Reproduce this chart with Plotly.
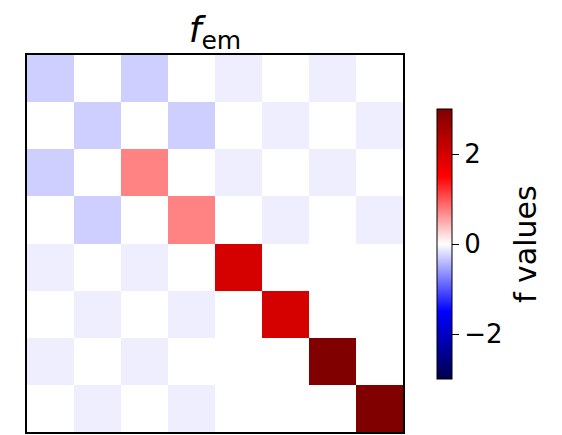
import plotly.graph_objects as go

# Data
cols = list(range(8))
rows = list(range(8))
z = [
    [-0.28, 0, -0.28, 0, -0.1, 0, -0.1, 0],
    [0, -0.28, 0, -0.28, 0, -0.1, 0, -0.1],
    [-0.28, 0, 0.73, 0, -0.1, 0, -0.1, 0],
    [0, -0.28, 0, 0.73, 0, -0.1, 0, -0.1],
    [-0.1, 0, -0.1, 0, 2.0, 0, 0, 0],
    [0, -0.1, 0, -0.1, 0, 2.0, 0, 0],
    [-0.1, 0, -0.1, 0, 0, 0, 3.0, 0],
    [0, -0.1, 0, -0.1, 0, 0, 0, 3.0],
]
cb_ticks = [-2, 0, 2]
cb_ticktext = ["\u22122", "0", "2"]
cb_title = "f values"

seismic = [
    [0.0, "rgb(0,0,77)"],
    [0.25, "rgb(0,0,255)"],
    [0.5, "rgb(255,255,255)"],
    [0.75, "rgb(255,0,0)"],
    [1.0, "rgb(128,0,0)"],
]

W, H = 562, 435
L, R, T, B = 27, 403, 55, 432
cb_mid = (109 + 379) / 2

fig = go.Figure(go.Heatmap(
    z=z, x=cols, y=rows, colorscale=seismic, zmin=-3, zmax=3,
    xgap=0, ygap=0,
    colorbar=dict(
        x=(437 - L) / (R - L), xanchor="left", xpad=0,
        y=1 - (cb_mid - T) / (B - T), yanchor="middle",
        len=270, lenmode="pixels", ypad=0,
        thickness=15, thicknessmode="pixels",
        outlinecolor="black", outlinewidth=1,
        tickvals=cb_ticks, ticktext=cb_ticktext,
        ticks="outside", ticklen=7, tickcolor="black",
        tickfont=dict(size=26, color="black", family="DejaVu Sans"),
    ),
))

fig.add_annotation(
    text=cb_title, textangle=-90, showarrow=False,
    xref="paper", yref="paper",
    x=(525 - L) / (R - L), y=1 - (cb_mid - T) / (B - T),
    xanchor="center", yanchor="middle",
    font=dict(size=30, color="black", family="DejaVu Sans"),
)

fig.update_layout(
    width=W, height=H,
    margin=dict(l=L, r=W - R, t=T, b=H - B, pad=0),
    paper_bgcolor="white", plot_bgcolor="white",
    font=dict(family="DejaVu Sans", color="black"),
    title=dict(text="<i>f</i><sub><span style='font-size:25px'>em</span></sub>",
               x=215 / W, xanchor="center",
               y=1 - 29 / H, yanchor="middle",
               font=dict(size=36, color="black", family="DejaVu Sans")),
)
fig.update_xaxes(showticklabels=False, ticks="", showgrid=False, zeroline=False,
                 showline=True, mirror=True, linecolor="black", linewidth=1.5,
                 range=[-0.5, 7.5])
fig.update_yaxes(showticklabels=False, ticks="", showgrid=False, zeroline=False,
                 showline=True, mirror=True, linecolor="black", linewidth=1.5,
                 range=[7.5, -0.5])

fig.write_html("out.html", config={"displayModeBar": False},
               post_script="document.body.style.margin='0';")
